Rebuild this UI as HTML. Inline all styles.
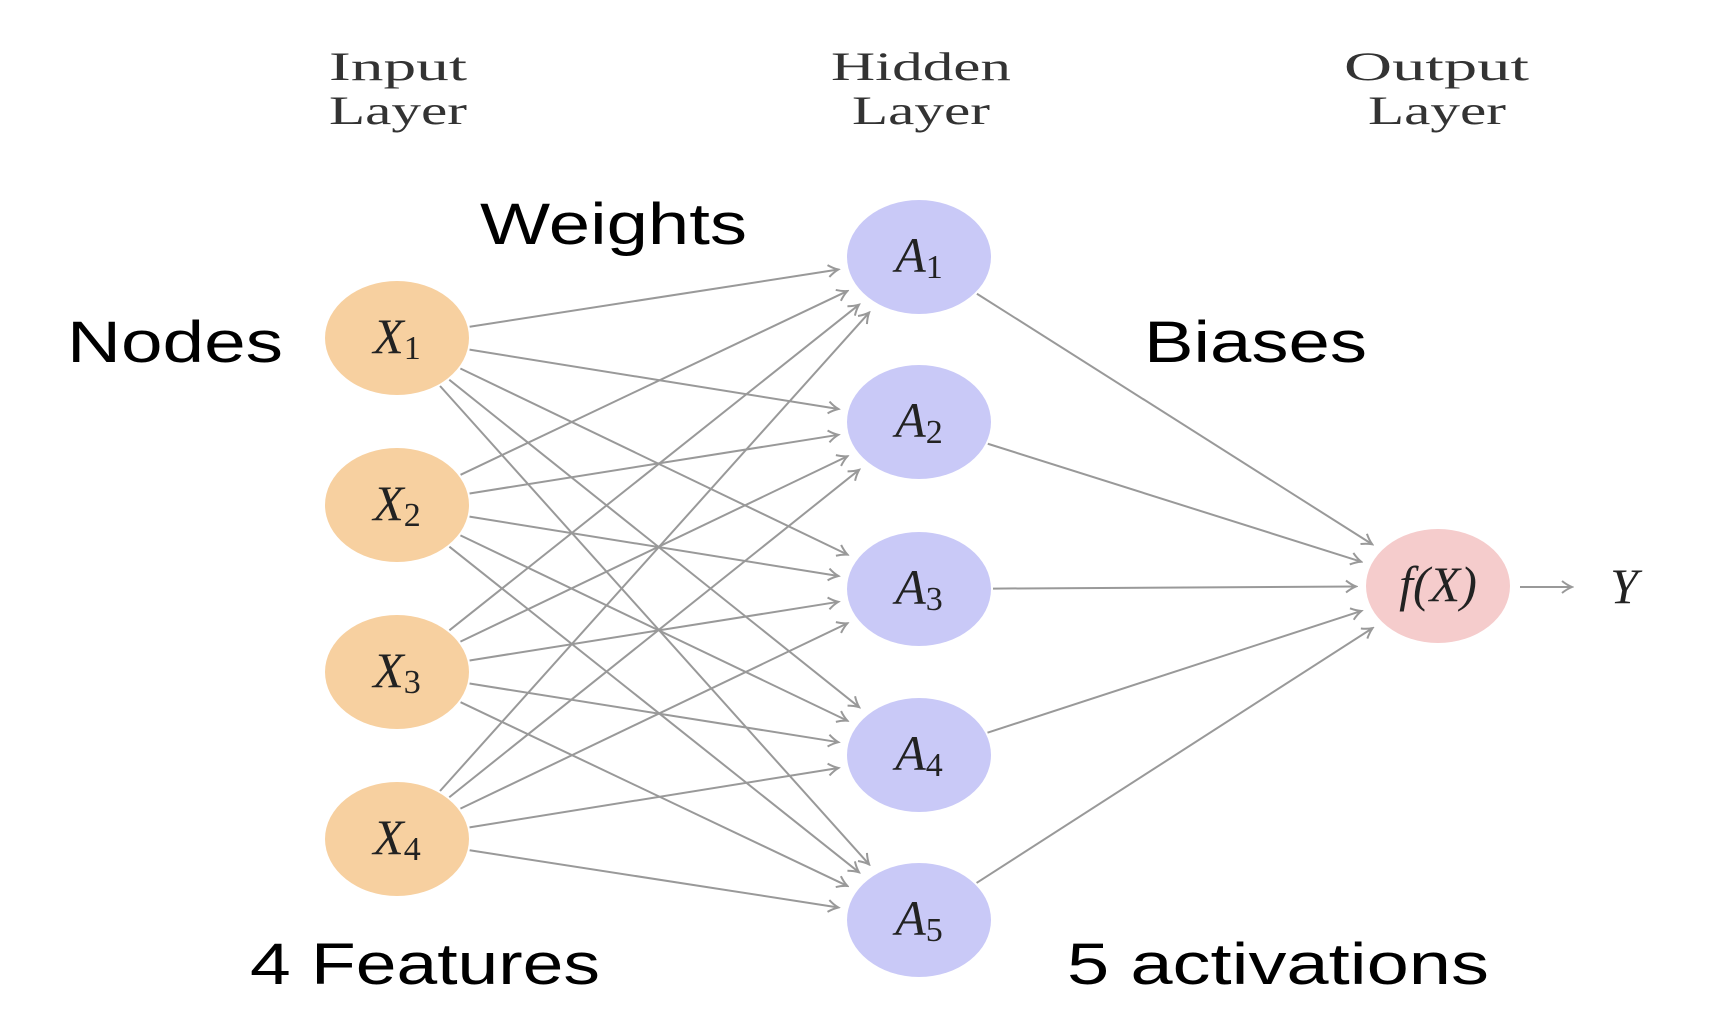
<!DOCTYPE html>
<html><head><meta charset="utf-8"><style>
body{margin:0;background:#fff}
svg{display:block}
.s{font-family:"Liberation Serif",serif;font-size:40px;fill:#333}
.m{font-family:"Liberation Serif",serif;font-style:italic;font-size:50px;fill:#222;text-anchor:middle}
.b{font-family:"Liberation Sans",sans-serif;font-size:58px;fill:#000}
</style></head><body>
<svg id="g" width="1734" height="1032" viewBox="0 0 1734 1032" xmlns="http://www.w3.org/2000/svg">
<defs><marker id="ar" markerWidth="14" markerHeight="14" refX="12" refY="7" orient="auto" markerUnits="userSpaceOnUse"><path d="M2,1 Q7,5 12,7 Q7,9 2,13" fill="none" stroke="#999" stroke-width="2"/></marker></defs>
<text class="s" x="329" y="80" textLength="138" lengthAdjust="spacingAndGlyphs">Input</text><text class="s" x="329" y="124" textLength="138" lengthAdjust="spacingAndGlyphs">Layer</text>
<text class="s" x="831" y="80" textLength="180" lengthAdjust="spacingAndGlyphs">Hidden</text><text class="s" x="852" y="124" textLength="138" lengthAdjust="spacingAndGlyphs">Layer</text>
<text class="s" x="1344" y="80" textLength="185" lengthAdjust="spacingAndGlyphs">Output</text><text class="s" x="1368" y="124" textLength="138" lengthAdjust="spacingAndGlyphs">Layer</text>
<text class="b" x="480" y="244" textLength="267" lengthAdjust="spacingAndGlyphs">Weights</text>
<text class="b" x="67" y="362" textLength="216" lengthAdjust="spacingAndGlyphs">Nodes</text>
<text class="b" x="1144" y="362" textLength="223" lengthAdjust="spacingAndGlyphs">Biases</text>
<text class="b" x="250" y="984" textLength="350" lengthAdjust="spacingAndGlyphs">4 Features</text>
<text class="b" x="1067" y="984" textLength="422" lengthAdjust="spacingAndGlyphs">5 activations</text>
<g id="edges" stroke="#999" stroke-width="2" fill="none"></g>
<g id="nodes"></g>
<line x1="1520" y1="587" x2="1572" y2="587" stroke="#999" stroke-width="2" marker-end="url(#ar)"/>
<text class="m" x="1624" y="603">Y</text>
</svg>
<script>
var X=[338,505,672,839],A=[257,422,589,755,920],ns="http://www.w3.org/2000/svg";
var E=document.getElementById('edges'),N=document.getElementById('nodes');
function ln(x1,y1,x2,y2){var dx=x2-x1,dy=y2-y1,L=Math.hypot(dx,dy),ux=dx/L,uy=dy/L;
 var t1=1/Math.sqrt(ux*ux/(74*74)+uy*uy/(59*59)),t2=1/Math.sqrt(ux*ux/(82*82)+uy*uy/(70*70));
 var l=document.createElementNS(ns,'line');l.setAttribute('x1',x1+ux*t1);l.setAttribute('y1',y1+uy*t1);
 l.setAttribute('x2',x2-ux*t2);l.setAttribute('y2',y2-uy*t2);l.setAttribute('marker-end','url(#ar)');E.appendChild(l);}
X.forEach(function(y){A.forEach(function(a){ln(397,y,919,a);});});
A.forEach(function(a){ln(919,a,1438,586);});
function nd(x,y,c,t,s){var e=document.createElementNS(ns,'ellipse');e.setAttribute('cx',x);e.setAttribute('cy',y);e.setAttribute('rx',72);e.setAttribute('ry',57);e.setAttribute('fill',c);N.appendChild(e);
 var tx=document.createElementNS(ns,'text');tx.setAttribute('class','m');tx.setAttribute('x',x);tx.setAttribute('y',y+15);
 tx.innerHTML=t+(s?'<tspan font-style="normal" font-size="34" dy="6">'+s+'</tspan>':'');N.appendChild(tx);}
X.forEach(function(y,i){nd(397,y,'#f7d0a0','X',i+1);});
A.forEach(function(y,i){nd(919,y,'#c9c9f7','A',i+1);});
nd(1438,586,'#f5cccc','f(X)','');
</script>
</body></html>
